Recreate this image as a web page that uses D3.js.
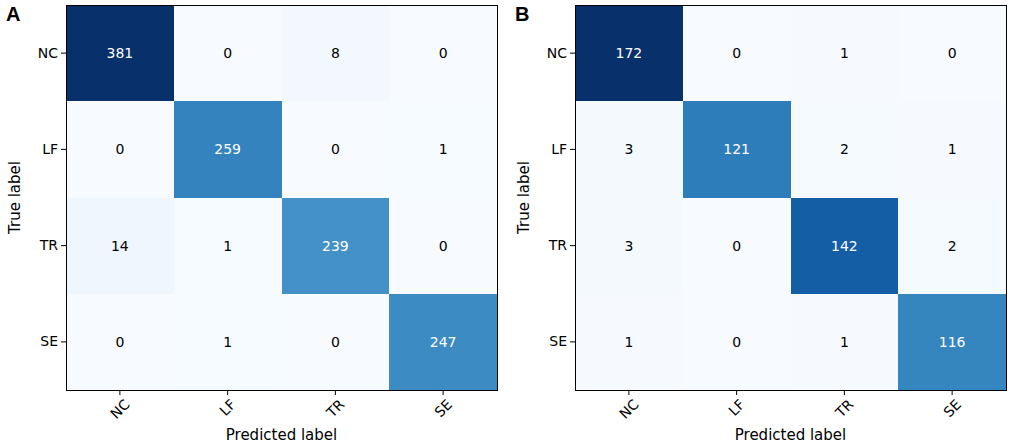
<!DOCTYPE html>
<html>
<head>
<meta charset="utf-8">
<script src="https://cdn.jsdelivr.net/npm/d3@7"></script>
<style>
  body { margin: 0; background: #fff; }
  svg { display: block; font-family: "DejaVu Sans", sans-serif; }
</style>
</head>
<body>
<svg id="chart" width="1013" height="448"></svg>
<script>
const labels = ['NC', 'LF', 'TR', 'SE'];
const matrixA = [
  [381, 0, 8, 0],
  [0, 259, 0, 1],
  [14, 1, 239, 0],
  [0, 1, 0, 247]
];
const matrixB = [
  [172, 0, 1, 0],
  [3, 121, 2, 1],
  [3, 0, 142, 2],
  [1, 0, 1, 116]
];
const panels = [
  { tag: 'A', data: matrixA, left: 66 },
  { tag: 'B', data: matrixB, left: 575 }
];

const svg = d3.select('#chart');
const plotTop = 5, plotW = 431, plotH = 385;

panels.forEach(p => {
  const g = svg.append('g').attr('transform', `translate(${p.left},${plotTop})`);
  const x = d3.scaleBand().domain(labels).range([0, plotW]);
  const y = d3.scaleBand().domain(labels).range([0, plotH]);
  const vmax = d3.max(p.data.flat());
  const color = d3.scaleSequential(d3.interpolateBlues).domain([0, vmax]);

  const cells = p.data.flatMap((row, i) => row.map((v, j) => ({ r: labels[i], c: labels[j], v })));

  g.selectAll('rect.cell')
    .data(cells)
    .join('rect')
    .attr('class', 'cell')
    .attr('x', d => x(d.c))
    .attr('y', d => y(d.r))
    .attr('width', x.bandwidth() + 0.5)
    .attr('height', y.bandwidth() + 0.5)
    .attr('fill', d => color(d.v))
    .attr('shape-rendering', 'crispEdges');

  g.selectAll('text.val')
    .data(cells)
    .join('text')
    .attr('class', 'val')
    .attr('x', d => x(d.c) + x.bandwidth() / 2)
    .attr('y', d => y(d.r) + y.bandwidth() / 2)
    .attr('text-anchor', 'middle')
    .attr('dominant-baseline', 'central')
    .style('font-size', '14px')
    .attr('fill', d => d.v > vmax / 2 ? '#fff' : '#000')
    .text(d => d.v);

  // frame
  g.append('rect')
    .attr('width', plotW).attr('height', plotH)
    .attr('fill', 'none').attr('stroke', '#000').attr('stroke-width', 1)
    .attr('shape-rendering', 'crispEdges');

  // y axis
  const ya = g.append('g')
    .call(d3.axisLeft(y).tickSize(5).tickPadding(3));
  ya.select('.domain').remove();
  ya.selectAll('text').style('font-size', '14px').attr('fill', '#000').style('font-family', 'DejaVu Sans');

  // x axis, labels rotated 45 and centred under tick
  const xa = g.append('g')
    .attr('transform', `translate(0,${plotH})`)
    .call(d3.axisBottom(x).tickSize(5).tickPadding(0));
  xa.select('.domain').remove();
  xa.selectAll('text')
    .style('font-size', '14px').style('font-family', 'DejaVu Sans').attr('fill', '#000')
    .each(function () {
      const t = d3.select(this);
      const w = this.getComputedTextLength();
      const off = 8 + (w + 11) / (2 * Math.SQRT2);
      t.attr('y', 0).attr('dy', null)
        .attr('text-anchor', 'middle')
        .attr('dominant-baseline', 'central')
        .attr('transform', `translate(0,${off}) rotate(-45)`);
    });

  g.append('text')
    .attr('x', plotW / 2).attr('y', 440 - plotTop)
    .attr('text-anchor', 'middle')
    .style('font-size', '15px')
    .text('Predicted label');

  g.append('text')
    .attr('transform', `translate(-46,${plotH / 2}) rotate(-90)`)
    .attr('text-anchor', 'middle')
    .style('font-size', '15px')
    .text('True label');

  svg.append('text')
    .attr('x', p.left - 60).attr('y', 21)
    .style('font-family', 'Liberation Sans, Arial, sans-serif')
    .style('font-weight', 'bold')
    .style('font-size', '20px')
    .text(p.tag);
});
</script>
</body>
</html>
